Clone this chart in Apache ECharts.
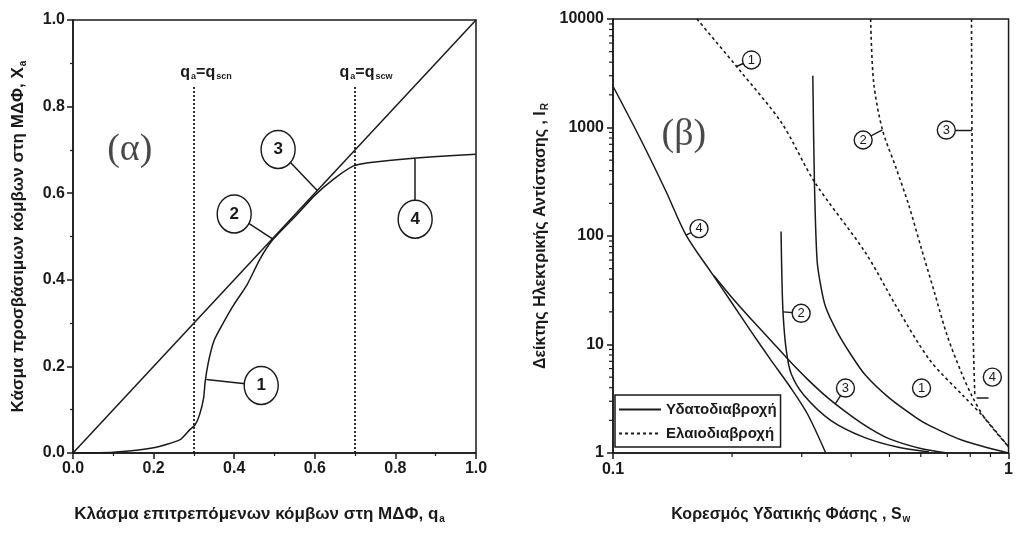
<!DOCTYPE html>
<html><head><meta charset="utf-8">
<script src="https://cdn.jsdelivr.net/npm/echarts@6/dist/echarts.min.js"></script>
<style>html,body{margin:0;padding:0;background:#fff}#c{width:1016px;height:547px}</style>
</head><body><div id="c"></div>
<script>
// ---------- Panel (α) data ----------
const qa = [0, 0.1, 0.2, 0.266, 0.29, 0.303, 0.314, 0.324, 0.328, 0.336, 0.349, 0.365, 0.398, 0.431, 0.464, 0.497, 0.55, 0.6, 0.646, 0.696, 0.729, 0.81, 0.894, 1.0];
const Xa = [0, 0.002, 0.012, 0.031, 0.054, 0.065, 0.088, 0.126, 0.165, 0.21, 0.257, 0.287, 0.341, 0.387, 0.448, 0.494, 0.545, 0.595, 0.632, 0.663, 0.670, 0.678, 0.684, 0.690];
const diagQ = [0, 1];
const diagX = [0, 1];
const criticalQ = [0.3, 0.7];
const criticalTop = 0.85;
const criticalSub = ['scn', 'scw'];
const criticalLabelQ = [0.33, 0.727];
const criticalLabelY = 0.878;
const leftTicks = [0, 0.2, 0.4, 0.6, 0.8, 1.0];
const leftCircleQ = [0.467, 0.40, 0.509, 0.849];
const leftCircleX = [0.156, 0.552, 0.701, 0.540];
const leftCircleText = ['1', '2', '3', '4'];
const leftTargetQ = [0.331, 0.496, 0.606, 0.849];
const leftTargetX = [0.170, 0.494, 0.606, 0.681];
const panelAPos = [0.141, 0.70];

// ---------- Panel (β) data ----------
// Υδατοδιαβροχή (solid)
const w1S = [0.32, 0.323, 0.328, 0.335, 0.345, 0.369, 0.40, 0.435, 0.50, 0.586, 0.63, 0.764, 1.0];
const w1I = [3000, 316, 60, 35, 22, 13, 8, 5.2, 3.2, 2.1, 1.8, 1.31, 1.0];
const w2S = [0.266, 0.267, 0.269, 0.274, 0.282, 0.304, 0.355, 0.43, 0.52, 0.63];
const w2I = [110, 50, 20, 9, 5.4, 3.4, 2.0, 1.4, 1.14, 1.02];
const w3S = [0.18, 0.2, 0.224, 0.25, 0.28, 0.31, 0.35, 0.40, 0.45, 0.50, 0.60, 0.70];
const w3I = [43, 27, 17, 11, 7, 4.8, 3.2, 2.2, 1.65, 1.35, 1.1, 1.0];
const w4S = [0.1, 0.117, 0.136, 0.153, 0.178, 0.2, 0.224, 0.25, 0.28, 0.31, 0.345];
const w4I = [2400, 800, 260, 102, 45, 24, 13, 7.3, 4.1, 2.3, 1.0];
// Ελαιοδιαβροχή (dashed)
const o1S = [0.163, 0.21, 0.267, 0.323, 0.435, 0.522, 0.632, 0.766, 0.87, 1.0];
const o1I = [10000, 3300, 1100, 316, 70, 22, 7.2, 3.4, 2.1, 1.14];
const o2S = [0.448, 0.456, 0.48, 0.52, 0.56, 0.60, 0.65, 0.70, 0.76, 0.81, 0.87, 1.0];
const o2I = [10000, 2600, 950, 420, 190, 80, 30, 12, 5.5, 3.3, 2.1, 1.14];
const o3S = [0.806, 0.808, 0.811, 0.815, 0.822];
const o3I = [10000, 1000, 100, 10, 3.3];
const o4S = [0.83, 0.89];
const o4I = [3.2, 3.2];

const rightTicksI = [1, 10, 100, 1000, 10000];
const rightTicksS = [0.1, 1];
const minorI = [2,3,4,5,6,7,8,9,20,30,40,50,60,70,80,90,200,300,400,500,600,700,800,900,2000,3000,4000,5000,6000,7000,8000,9000];
const minorS = [0.2, 0.3, 0.4, 0.5, 0.6, 0.7, 0.8, 0.9];

const rCircleS = [0.2239, 0.429, 0.696, 0.165, 0.299, 0.387, 0.6026, 0.91];
const rCircleI = [4190, 767, 948, 117, 19.4, 3.97, 3.97, 5.0];
const rCircleText = ['1', '2', '3', '4', '2', '3', '1', '4'];
const rTargetS = [0.205, 0.48, 0.808, 0.153, 0.269, 0.365, null, null];
const rTargetI = [3650, 950, 948, 102, 20, 2.85, null, null];
const panelBPos = [0.151, 851];

const legendNames = ['Υδατοδιαβροχή', 'Ελαιοδιαβροχή'];

// ---------- chart ----------
const INK = '#1a1a1a';
const SANS = '"Liberation Sans", Arial, sans-serif';
const SERIF = '"Liberation Serif", "DejaVu Serif", serif';
const zip = (a, b) => a.map((v, i) => [v, b[i]]);

const chart = echarts.init(document.getElementById('c'));

function axisBase(fs) {
  return {
    axisLine: { show: true, lineStyle: { color: INK, width: 1.5 } },
    axisTick: { show: true, inside: false, length: 6, lineStyle: { color: INK, width: 1.5 } },
    axisLabel: { color: INK, fontFamily: SANS, fontWeight: 'bold', fontSize: fs, margin: 8 },
    splitLine: { show: false }
  };
}
function subRich(fs) {
  return {
    t: { color: INK, fontFamily: SANS, fontWeight: 'bold', fontSize: fs },
    s: { color: INK, fontFamily: SANS, fontWeight: 'bold', fontSize: Math.round(fs * 0.6), verticalAlign: 'bottom', padding: [Math.round(fs * 0.55), 0, 0, 1] }
  };
}

function leaderData(sx, sy, tx, ty) {
  const out = [];
  sx.forEach((v, i) => { if (tx[i] != null) out.push({ coords: [[v, sy[i]], [tx[i], ty[i]]] }); });
  return out;
}

const LFS = 16, LTFS = 17, RFS = 16, RTFS = 16;

const option = {
  animation: false,
  backgroundColor: '#fff',
  grid: [
    { left: 73, top: 20, width: 403, height: 433, show: true, borderColor: INK, borderWidth: 1.5 },
    { left: 613, top: 19, width: 400, height: 434, show: true, borderColor: INK, borderWidth: 1.5 }
  ],
  legend: {
    data: legendNames, orient: 'vertical', left: 615, top: 395,
    itemWidth: 42, itemHeight: 10, itemGap: 9, padding: [7, 4, 6, 3],
    borderColor: INK, borderWidth: 1.5, backgroundColor: '#fff', selectedMode: false,
    itemStyle: { opacity: 0 },
    textStyle: { color: INK, fontFamily: SANS, fontWeight: 'bold', fontSize: 15 }
  },
  xAxis: [
    Object.assign(axisBase(LFS), {
      gridIndex: 0, type: 'value', min: leftTicks[0], max: leftTicks[leftTicks.length - 1], interval: 0.2,
      minorTick: { show: true, splitNumber: 2, length: 3, lineStyle: { color: INK, width: 1.2 } },
      axisLabel: { color: INK, fontFamily: SANS, fontWeight: 'bold', fontSize: LFS, margin: 8, formatter: v => v.toFixed(1) },
      name: '{t|Κλάσμα επιτρεπόμενων κόμβων στη ΜΔΦ, q}{s|a}', nameLocation: 'middle', nameGap: 52,
      nameTextStyle: { rich: subRich(LTFS), padding: [0, 30, 0, 0] }
    }),
    Object.assign(axisBase(RFS), {
      gridIndex: 1, type: 'log', logBase: 10, min: rightTicksS[0], max: rightTicksS[1],
      axisLabel: { color: INK, fontFamily: SANS, fontWeight: 'bold', fontSize: RFS, margin: 9, formatter: v => String(+v.toPrecision(3)) },
      name: '{t|Κορεσμός Υδατικής Φάσης , S}{s|w}', nameLocation: 'middle', nameGap: 52,
      nameTextStyle: { rich: subRich(RTFS), padding: [0, 40, 0, 0] }
    })
  ],
  yAxis: [
    Object.assign(axisBase(LFS), {
      gridIndex: 0, type: 'value', min: leftTicks[0], max: leftTicks[leftTicks.length - 1], interval: 0.2,
      minorTick: { show: true, splitNumber: 2, length: 3, lineStyle: { color: INK, width: 1.2 } },
      axisLabel: { color: INK, fontFamily: SANS, fontWeight: 'bold', fontSize: LFS, margin: 8, formatter: v => v.toFixed(1) },
      name: '{t|Κάσμα προσβάσιμων κόμβων στη ΜΔΦ, X}{s|a}', nameLocation: 'middle', nameGap: 45, nameRotate: 90,
      nameTextStyle: { rich: subRich(LTFS), padding: [0, 0, 0, 0] }
    }),
    Object.assign(axisBase(RFS), {
      gridIndex: 1, type: 'log', logBase: 10, min: rightTicksI[0], max: rightTicksI[rightTicksI.length - 1],
      axisLabel: { color: INK, fontFamily: SANS, fontWeight: 'bold', fontSize: RFS, margin: 9, formatter: v => String(Math.round(v)) },
      name: '{t|Δείκτης Ηλεκτρικής Αντίστασης , I}{s|R}', nameLocation: 'middle', nameGap: 63, nameRotate: 90,
      nameTextStyle: { rich: subRich(RTFS) }
    })
  ],
  series: [
    // ---- panel α ----
    { type: 'line', name: 'diag', xAxisIndex: 0, yAxisIndex: 0, data: zip(diagQ, diagX), symbol: 'none',
      lineStyle: { color: INK, width: 1.5 }, z: 3 },
    { type: 'line', name: 'Xa', xAxisIndex: 0, yAxisIndex: 0, data: zip(qa, Xa), symbol: 'none', smooth: 0.2,
      lineStyle: { color: INK, width: 1.5 }, z: 3 },
    { type: 'lines', name: 'crit', coordinateSystem: 'cartesian2d', xAxisIndex: 0, yAxisIndex: 0,
      data: criticalQ.map(q => ({ coords: [[q, 0], [q, criticalTop]] })),
      lineStyle: { color: INK, width: 1.8, type: [2, 2], opacity: 1 }, z: 2 },
    { type: 'scatter', name: 'critLabel', xAxisIndex: 0, yAxisIndex: 0, symbolSize: 1,
      itemStyle: { color: '#fff', opacity: 1 }, silent: true, z: 6,
      data: criticalLabelQ.map((q, i) => ({ value: [q, criticalLabelY], sub: criticalSub[i] })),
      label: { show: true, position: 'inside', color: INK, opacity: 1,
        formatter: p => '{t|q}{s|a}{t|=q}{s|' + p.data.sub + '}',
        rich: { t: { color: INK, fontFamily: SANS, fontWeight: 'bold', fontSize: 16 },
                s: { color: INK, fontFamily: SANS, fontWeight: 'bold', fontSize: 9, verticalAlign: 'bottom', padding: [8, 0, 0, 1] } } } },
    { type: 'lines', name: 'leadersA', coordinateSystem: 'cartesian2d', xAxisIndex: 0, yAxisIndex: 0,
      data: leaderData(leftCircleQ, leftCircleX, leftTargetQ, leftTargetX),
      lineStyle: { color: INK, width: 1.5, opacity: 1 }, z: 4 },
    { type: 'scatter', name: 'circlesA', xAxisIndex: 0, yAxisIndex: 0, symbol: 'circle', symbolSize: [34, 38],
      itemStyle: { color: '#fff', borderColor: INK, borderWidth: 1.5, opacity: 1 }, z: 5, silent: true,
      data: leftCircleQ.map((q, i) => ({ value: [q, leftCircleX[i]], name: leftCircleText[i] })),
      label: { show: true, position: 'inside', formatter: p => p.name, color: INK, fontFamily: SANS, fontWeight: 'bold', fontSize: 17 } },
    { type: 'scatter', name: 'alpha', xAxisIndex: 0, yAxisIndex: 0, symbolSize: 1, itemStyle: { color: '#fff' }, silent: true,
      data: [panelAPos],
      label: { show: true, position: 'inside', formatter: '(α)', color: INK, fontFamily: SERIF, fontSize: 38 } },

    // ---- panel β ----
    ...[[w1S, w1I], [w2S, w2I], [w3S, w3I], [w4S, w4I]].map(([s, v]) => ({
      type: 'line', name: legendNames[0], xAxisIndex: 1, yAxisIndex: 1, data: zip(s, v), symbol: 'none', smooth: 0.3,
      itemStyle: { color: INK }, lineStyle: { color: INK, width: 1.5, type: 'solid' }, z: 3 })),
    ...[[o1S, o1I], [o2S, o2I], [o3S, o3I]].map(([s, v]) => ({
      type: 'line', name: legendNames[1], xAxisIndex: 1, yAxisIndex: 1, data: zip(s, v), symbol: 'none', smooth: 0.3,
      itemStyle: { color: INK }, lineStyle: { color: INK, width: 1.6, type: [3, 3] }, z: 3 })),
    { type: 'lines', name: 'o4', coordinateSystem: 'cartesian2d', xAxisIndex: 1, yAxisIndex: 1,
      data: [{ coords: zip(o4S, o4I) }], lineStyle: { color: INK, width: 1.5, opacity: 1 }, z: 4 },
    { type: 'lines', name: 'leadersB', coordinateSystem: 'cartesian2d', xAxisIndex: 1, yAxisIndex: 1,
      data: leaderData(rCircleS, rCircleI, rTargetS, rTargetI),
      lineStyle: { color: INK, width: 1.4, opacity: 1 }, z: 4 },
    { type: 'scatter', name: 'circlesB', xAxisIndex: 1, yAxisIndex: 1, symbol: 'circle', symbolSize: 18,
      itemStyle: { color: '#fff', borderColor: INK, borderWidth: 1.4, opacity: 1 }, z: 5, silent: true,
      data: rCircleS.map((s, i) => ({ value: [s, rCircleI[i]], name: rCircleText[i] })),
      label: { show: true, position: 'inside', formatter: p => p.name, color: INK, fontFamily: SANS, fontSize: 13 } },
    { type: 'scatter', name: 'beta', xAxisIndex: 1, yAxisIndex: 1, symbolSize: 1, itemStyle: { color: '#fff' }, silent: true,
      data: [panelBPos],
      label: { show: true, position: 'inside', formatter: '(β)', color: INK, fontFamily: SERIF, fontSize: 38 } },
    { type: 'custom', name: 'minorY', xAxisIndex: 1, yAxisIndex: 1, silent: true, clip: false,
      data: minorI.map(v => [rightTicksS[0], v]),
      renderItem: (params, api) => {
        const p = api.coord([api.value(0), api.value(1)]);
        return { type: 'line', shape: { x1: p[0] - 4, y1: p[1], x2: p[0], y2: p[1] }, style: { stroke: INK, lineWidth: 1.2 } };
      } },
    { type: 'custom', name: 'minorX', xAxisIndex: 1, yAxisIndex: 1, silent: true, clip: false,
      data: minorS.map(v => [v, rightTicksI[0]]),
      renderItem: (params, api) => {
        const p = api.coord([api.value(0), api.value(1)]);
        return { type: 'line', shape: { x1: p[0], y1: p[1], x2: p[0], y2: p[1] + 4 }, style: { stroke: INK, lineWidth: 1.2 } };
      } }
  ]
};
chart.setOption(option);
</script></body></html>
